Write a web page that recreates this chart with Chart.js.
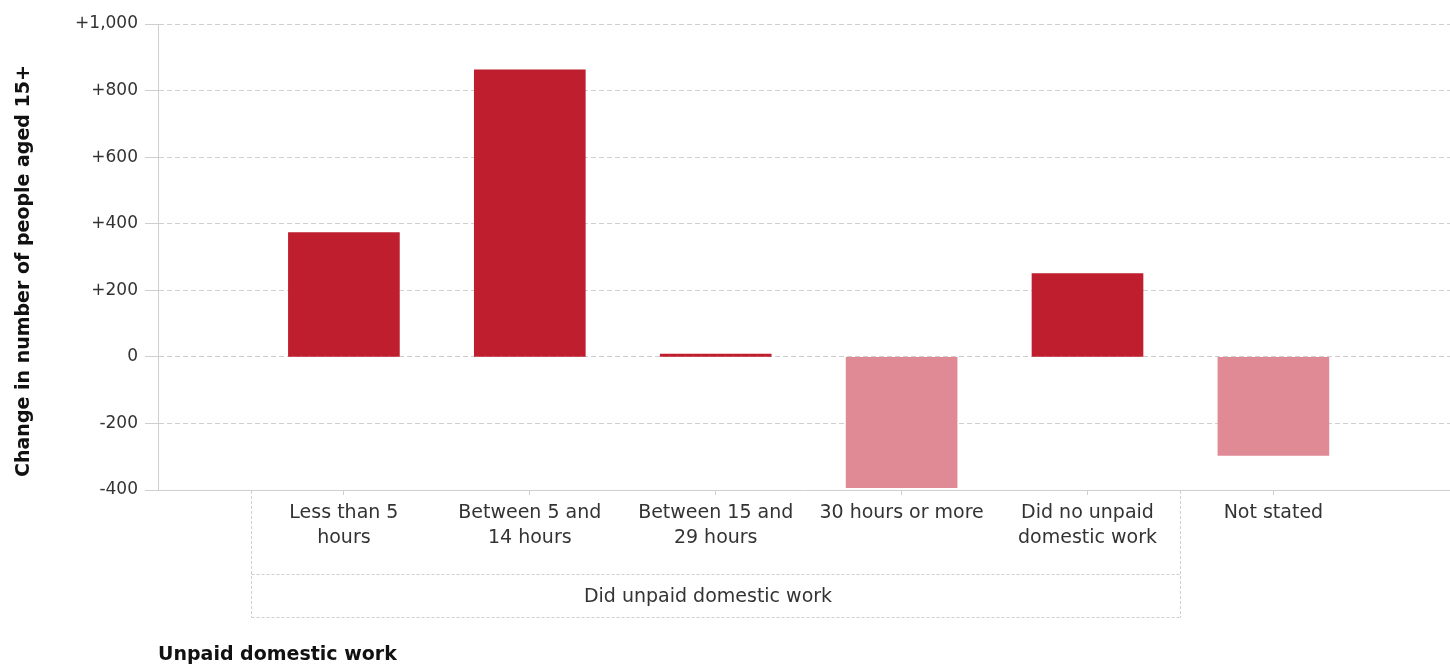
<!DOCTYPE html>
<html>
<head>
<meta charset="utf-8">
<script src="https://cdn.jsdelivr.net/npm/chart.js@4.4.0/dist/chart.umd.min.js"></script>
<style>
  html, body { margin: 0; padding: 0; background: #fff; }
  #wrap { width: 1450px; height: 670px; }
</style>
</head>
<body>
<div id="wrap"><canvas id="grafico"></canvas></div>
<script>
const categorias = [
  ['Less than 5', 'hours'],
  ['Between 5 and', '14 hours'],
  ['Between 15 and', '29 hours'],
  ['30 hours or more'],
  ['Did no unpaid', 'domestic work'],
  ['Not stated']
];
const variacao = [373, 862, 8, -393, 250, -296];
const ticksY = [-400, -200, 0, 200, 400, 600, 800, 1000];
const grupoTexto = 'Did unpaid domestic work';
const grupoIndices = [0, 4];
const tituloY = 'Change in number of people aged 15+';
const tituloX = 'Unpaid domestic work';

const FONTE = '"DejaVu Sans", sans-serif';
const CINZA = '#cfcfcf';

// caixa tracejada do agrupamento + titulo vertical
const caixaGrupo = {
  id: 'caixaGrupo',
  afterDraw(chart) {
    const ctx = chart.ctx;
    const x = chart.scales.x;
    const a = chart.chartArea;
    const esq = Math.round(x.getPixelForValue(grupoIndices[0] - 0.5)) + 0.5;
    const dir = Math.round(x.getPixelForValue(grupoIndices[1] + 0.5)) + 0.5;
    const meio = 574.5, fundo = 617.5;
    ctx.save();
    ctx.strokeStyle = CINZA;
    ctx.lineWidth = 1;
    ctx.setLineDash([3, 2]);
    ctx.beginPath();
    ctx.moveTo(esq, a.bottom + 1); ctx.lineTo(esq, fundo);
    ctx.moveTo(dir, a.bottom + 1); ctx.lineTo(dir, fundo);
    ctx.moveTo(esq, meio); ctx.lineTo(dir, meio);
    ctx.moveTo(esq, fundo); ctx.lineTo(dir, fundo);
    ctx.stroke();
    ctx.setLineDash([]);
    ctx.fillStyle = '#333';
    ctx.font = '19px ' + FONTE;
    ctx.textAlign = 'center';
    ctx.textBaseline = 'middle';
    ctx.fillText(grupoTexto, (esq + dir) / 2 - 8, 597);

    ctx.translate(24, 271);
    ctx.rotate(-Math.PI / 2);
    ctx.fillStyle = '#111';
    ctx.font = 'bold 19px ' + FONTE;
    ctx.fillText(tituloY, 0, 0);
    ctx.restore();
  }
};

const ctxGrafico = document.getElementById('grafico');
new Chart(ctxGrafico, {
  type: 'bar',
  data: {
    datasets: [{
      data: variacao.map(function (v, i) { return { x: i, y: v }; }),
      backgroundColor: variacao.map(function (v) { return v >= 0 ? '#be1e2d' : '#e08a96'; }),
      barThickness: 111
    }]
  },
  options: {
    responsive: true,
    maintainAspectRatio: false,
    animation: false,
    layout: { padding: { top: 24, right: 0, left: 0, bottom: 0 } },
    plugins: {
      legend: { display: false },
      tooltip: { enabled: false }
    },
    scales: {
      x: {
        type: 'linear',
        min: -1,
        max: 5.95,
        offset: false,
        afterBuildTicks: function (s) {
          s.ticks = categorias.map(function (c, i) { return { value: i }; });
        },
        afterFit: function (s) { s.height = 180; },
        ticks: {
          autoSkip: false,
          maxRotation: 0,
          padding: 6,
          color: '#333',
          font: { family: FONTE, size: 19, lineHeight: 1.3 },
          callback: function (v) { return categorias[v] || ''; }
        },
        grid: { offset: false, drawOnChartArea: false, drawTicks: true, tickLength: 5, color: CINZA },
        border: { color: CINZA },
        title: {
          display: true,
          text: tituloX,
          align: 'start',
          color: '#111',
          font: { family: FONTE, size: 19, weight: 'bold' },
          padding: { top: 0, bottom: 4 }
        }
      },
      y: {
        min: -400,
        max: 1000,
        afterBuildTicks: function (s) {
          s.ticks = ticksY.map(function (v) { return { value: v }; });
        },
        afterFit: function (s) { s.width = 158; },
        ticks: {
          padding: 7,
          color: '#333',
          font: { family: FONTE, size: 17 },
          callback: function (v) {
            return v > 0 ? '+' + v.toLocaleString('en-US') : String(v);
          }
        },
        grid: {
          color: CINZA,
          tickLength: 13,
          tickColor: CINZA,
          tickBorderDash: []
        },
        border: { color: CINZA, dash: [5, 3] }
      }
    }
  },
  plugins: [caixaGrupo]
});
</script>
</body>
</html>
